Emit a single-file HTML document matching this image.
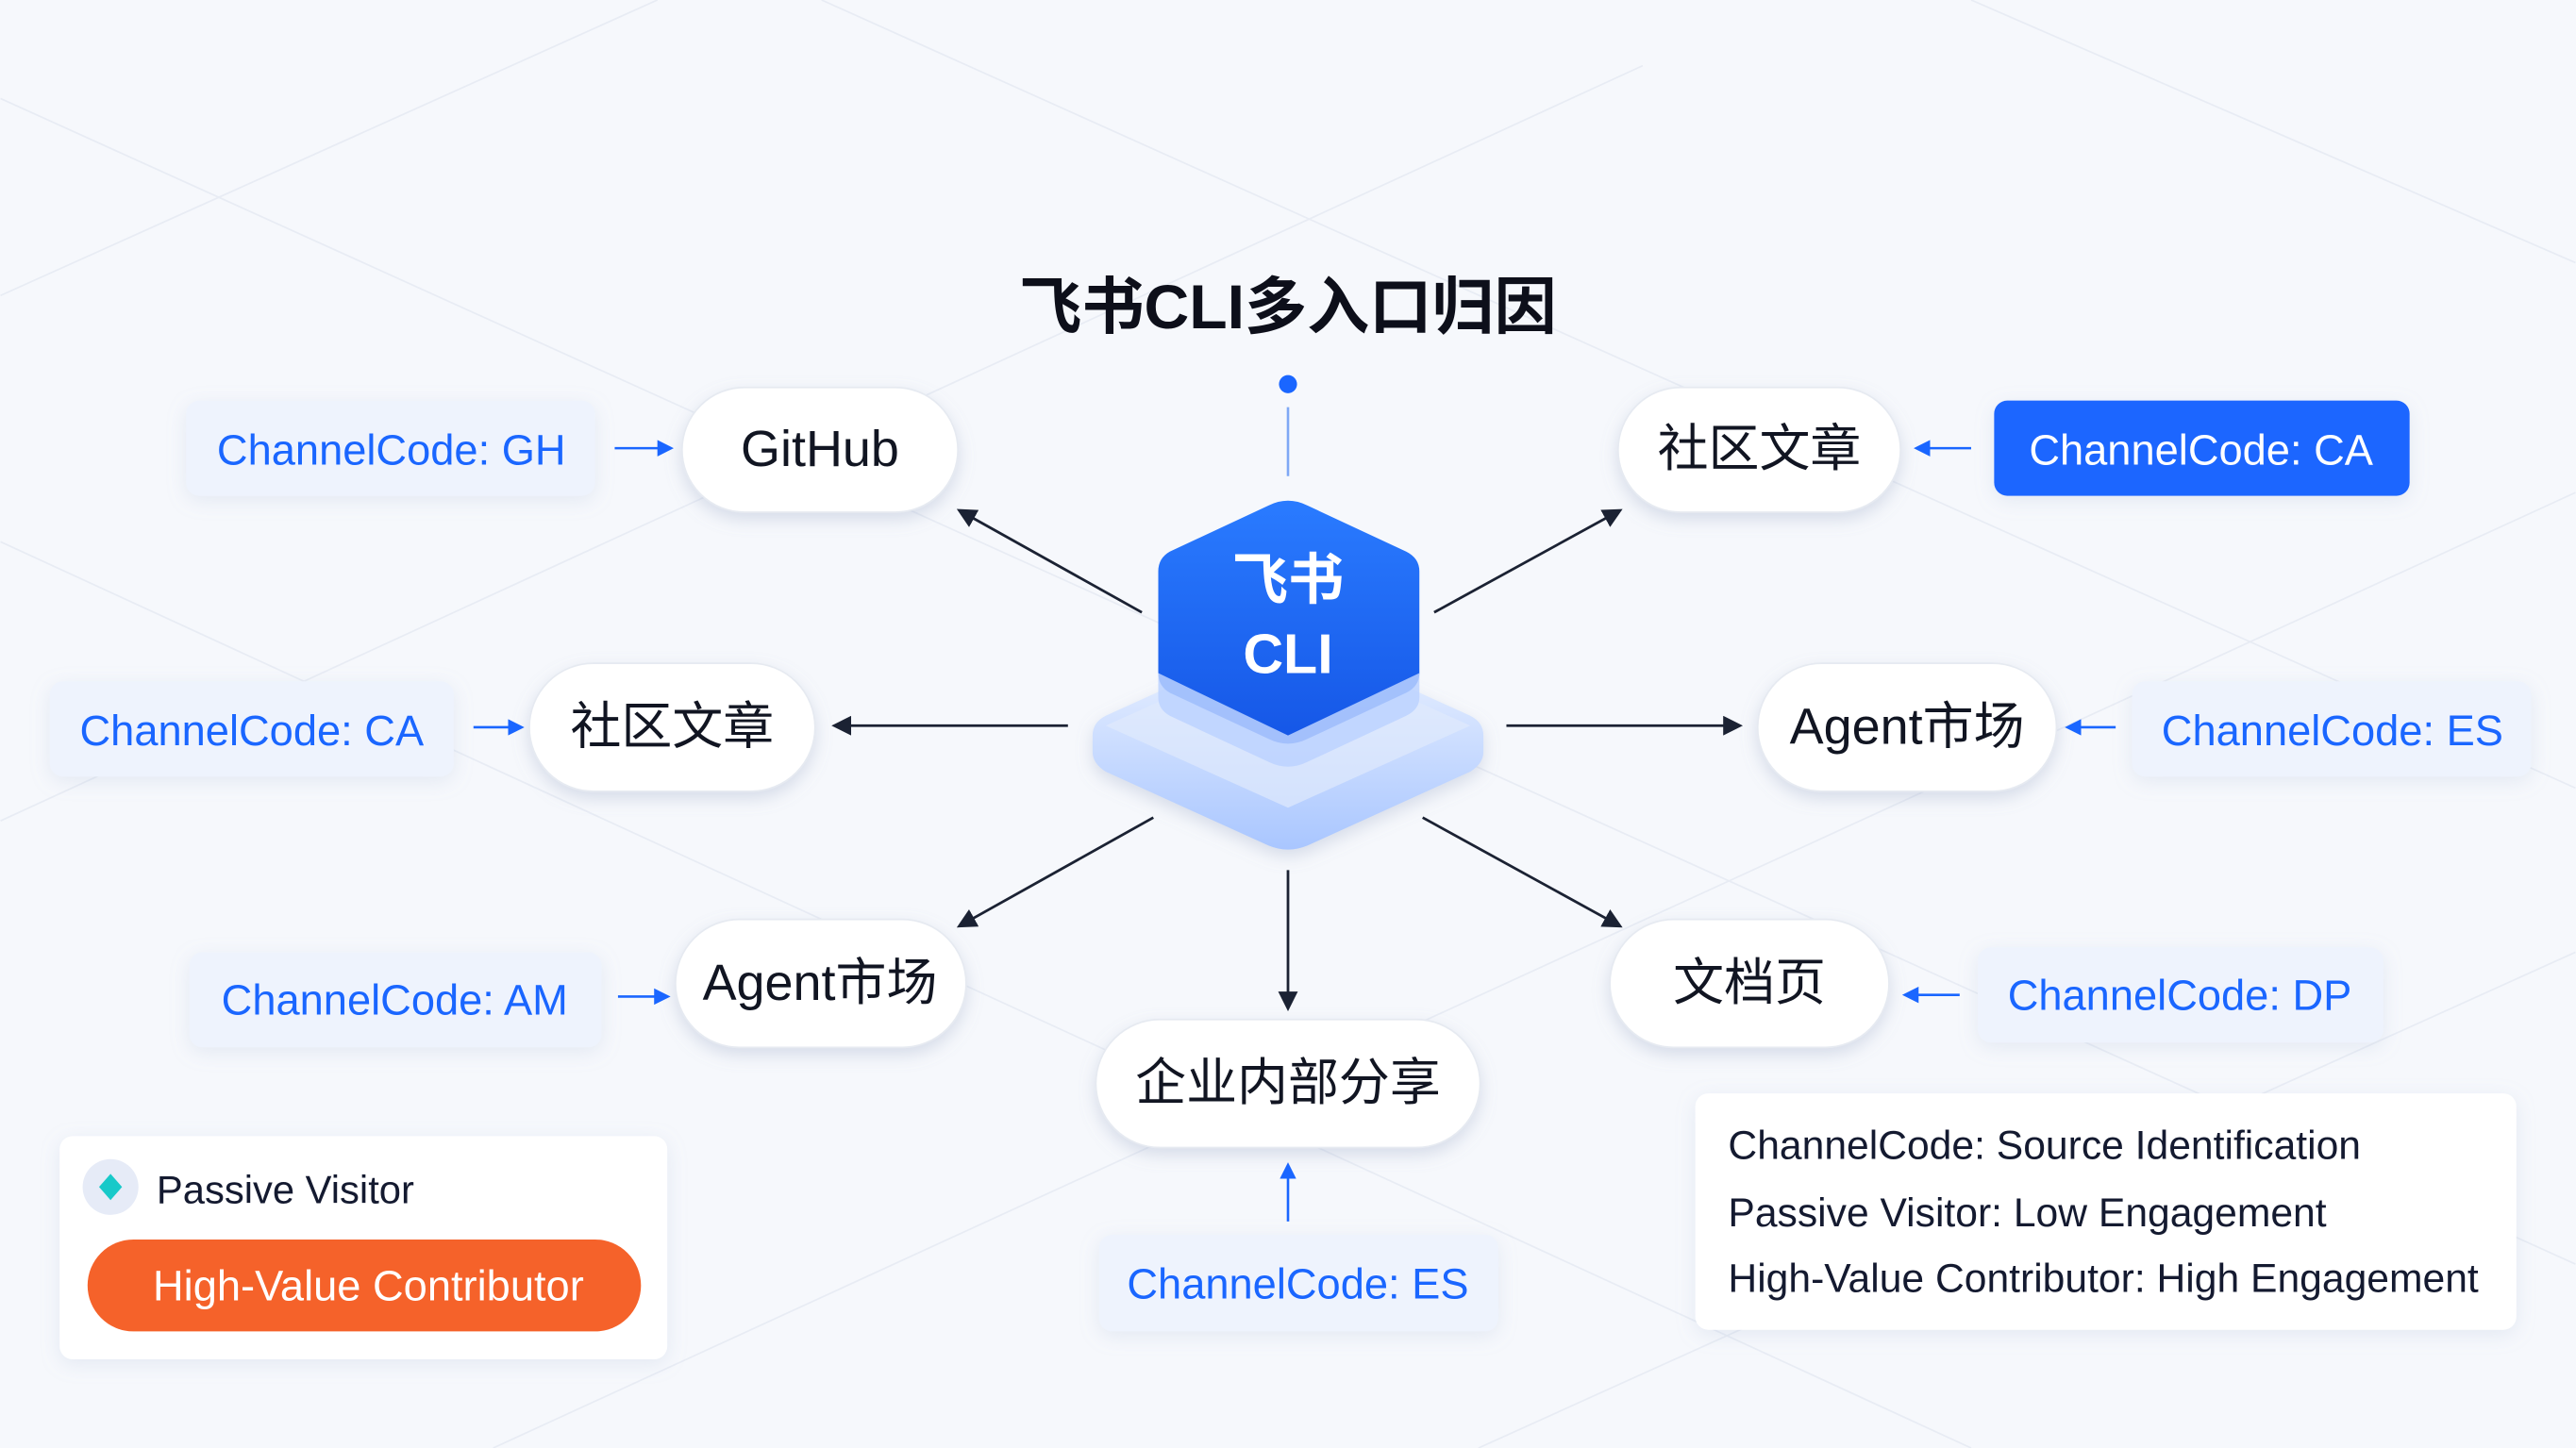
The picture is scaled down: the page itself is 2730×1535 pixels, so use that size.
<!DOCTYPE html>
<html><head><meta charset="utf-8"><style>
html,body{margin:0;padding:0;background:#f6f8fc;}
svg{display:block}
text{font-family:"Liberation Sans","Noto Sans CJK SC",sans-serif}
</style></head><body>
<svg width="2730" height="1535" viewBox="0 0 1568 882" xmlns="http://www.w3.org/2000/svg">
<defs>
<filter id="sh" x="-20%" y="-30%" width="140%" height="170%"><feDropShadow dx="0" dy="4" stdDeviation="5" flood-color="#8a9bbd" flood-opacity="0.3"/></filter>
<filter id="sh2" x="-20%" y="-30%" width="140%" height="170%"><feDropShadow dx="0" dy="3" stdDeviation="6" flood-color="#9aaccc" flood-opacity="0.2"/></filter>
<linearGradient id="blue" x1="0" y1="0" x2="0" y2="1"><stop offset="0" stop-color="#2a7bff"/><stop offset="1" stop-color="#1556e6"/></linearGradient>
<linearGradient id="base" x1="0" y1="0" x2="0" y2="1"><stop offset="0" stop-color="#eef4ff"/><stop offset="1" stop-color="#a9c6ff"/></linearGradient>
<marker id="ah" markerWidth="12" markerHeight="12" refX="10" refY="6" orient="auto" markerUnits="userSpaceOnUse"><path d="M0,0 L12,6 L0,12 Z" fill="#1b2233"/></marker>
<marker id="bh" markerWidth="10" markerHeight="10" refX="8" refY="5" orient="auto" markerUnits="userSpaceOnUse"><path d="M0,0 L10,5 L0,10 Z" fill="#1a66ff"/></marker>
</defs>
<rect width="1568" height="882" fill="#f6f8fc"/>
<g stroke="#e8ecf4" stroke-width="1" fill="none">
<path d="M0,180 L400,0 M0,500 L1000,40 M300,882 L1568,300 M900,882 L1568,580 M1200,0 L1568,160 M0,60 L1568,770 M0,330 L1200,882 M500,0 L1568,480"/>
</g>
<text x="784" y="200" font-size="38" font-weight="bold" text-anchor="middle" fill="#0d0f1a">飞书CLI多入口归因</text>
<circle cx="784" cy="234" r="5.5" fill="#1a66ff"/>
<line x1="784" y1="248" x2="784" y2="290" stroke="#7fa8f5" stroke-width="1.5"/>
<g stroke="#1b2233" stroke-width="1.6" marker-end="url(#ah)">
<line x1="695" y1="373" x2="584" y2="311"/>
<line x1="873" y1="373" x2="986" y2="311"/>
<line x1="650" y1="442" x2="508" y2="442"/>
<line x1="917" y1="442" x2="1059" y2="442"/>
<line x1="702" y1="498" x2="584" y2="564"/>
<line x1="866" y1="498" x2="986" y2="564"/>
<line x1="784" y1="530" x2="784" y2="614"/>
</g>
<path d="M784,388 Q790,388 796,391 L895,436 Q903,440 903,448 L903,458 Q903,465 895,470 L796,515 Q784,520 772,515 L673,470 Q665,465 665,458 L665,448 Q665,440 673,436 L772,391 Q778,388 784,388Z" fill="url(#base)" filter="url(#sh)"/>
<path d="M784,392 L895,442 L784,492 L673,442Z" fill="#dfe9fc" opacity="0.7"/>
<path d="M784,305 Q790,305 796,308 L856,336 Q864,340 864,348 L864,410 Q864,418 856,422 L796,450 Q784,456 772,450 L712,422 Q705,418 705,410 L705,348 Q705,340 712,336 L772,308 Q778,305 784,305Z" fill="url(#blue)"/>
<path d="M705,410 L784,448 L864,410 L864,425 Q864,432 856,436 L796,464 Q784,470 772,464 L712,436 Q705,432 705,425Z" fill="#bcd2ff" opacity="0.85"/>
<text x="784" y="365" font-size="34" font-weight="bold" text-anchor="middle" fill="#fff">飞书</text>
<text x="784" y="410" font-size="34" font-weight="bold" text-anchor="middle" fill="#fff">CLI</text>
<g filter="url(#sh)" fill="#fff" stroke="#e6eaf1" stroke-width="1">
<rect x="415" y="236" width="168" height="76" rx="38"/>
<rect x="985" y="236" width="172" height="76" rx="38"/>
<rect x="322" y="404" width="174" height="78" rx="39"/>
<rect x="1070" y="404" width="182" height="78" rx="39"/>
<rect x="411" y="560" width="177" height="78" rx="39"/>
<rect x="980" y="560" width="170" height="78" rx="39"/>
<rect x="667" y="621" width="234" height="78" rx="39"/>
</g>
<g font-size="31" fill="#111522" text-anchor="middle">
<text x="499" y="284">GitHub</text>
<text x="1071" y="284">社区文章</text>
<text x="409" y="453">社区文章</text>
<text x="1161" y="453">Agent市场</text>
<text x="499" y="609">Agent市场</text>
<text x="1065" y="609">文档页</text>
<text x="784" y="670">企业内部分享</text>
</g>
<g filter="url(#sh2)">
<rect x="113" y="244" width="249" height="58" rx="8" fill="#eef3fd"/>
<rect x="1214" y="244" width="253" height="58" rx="8" fill="#1a66ff"/>
<rect x="30" y="415" width="246" height="58" rx="8" fill="#eef3fd"/>
<rect x="1298" y="415" width="243" height="58" rx="8" fill="#eef3fd"/>
<rect x="115" y="580" width="251" height="58" rx="8" fill="#eef3fd"/>
<rect x="1204" y="577" width="247" height="58" rx="8" fill="#eef3fd"/>
<rect x="669" y="752" width="243" height="59" rx="8" fill="#eef3fd"/>
</g>
<g font-size="26" fill="#1a66ff" text-anchor="middle">
<text x="238" y="283">ChannelCode: GH</text>
<text x="1340" y="283" fill="#fff">ChannelCode: CA</text>
<text x="153" y="454">ChannelCode: CA</text>
<text x="1420" y="454">ChannelCode: ES</text>
<text x="240" y="618">ChannelCode: AM</text>
<text x="1327" y="615">ChannelCode: DP</text>
<text x="790" y="791">ChannelCode: ES</text>
</g>
<g stroke="#1a66ff" stroke-width="1.5" marker-end="url(#bh)">
<line x1="374" y1="273" x2="408" y2="273"/>
<line x1="1200" y1="273" x2="1167" y2="273"/>
<line x1="288" y1="443" x2="317" y2="443"/>
<line x1="1288" y1="443" x2="1259" y2="443"/>
<line x1="376" y1="607" x2="406" y2="607"/>
<line x1="1193" y1="606" x2="1160" y2="606"/>
<line x1="784" y1="744" x2="784" y2="710"/>
</g>
<rect x="36" y="692" width="370" height="136" rx="8" fill="#fff" filter="url(#sh2)"/>
<circle cx="67" cy="723" r="17" fill="#e6ebf7"/>
<path d="M67,715 L74,723 L67,731 L60,723Z" fill="#18c9c9"/>
<text x="95" y="733" font-size="24" fill="#141a30">Passive Visitor</text>
<rect x="53" y="755" width="337" height="56" rx="28" fill="#f5622a"/>
<text x="224" y="792" font-size="26" fill="#fff" text-anchor="middle">High-Value Contributor</text>
<rect x="1032" y="666" width="500" height="144" rx="8" fill="#fff" filter="url(#sh2)"/>
<g font-size="24.5" fill="#141a30">
<text x="1052" y="706">ChannelCode: Source Identification</text>
<text x="1052" y="747">Passive Visitor: Low Engagement</text>
<text x="1052" y="787">High-Value Contributor: High Engagement</text>
</g>
</svg>
</body></html>
